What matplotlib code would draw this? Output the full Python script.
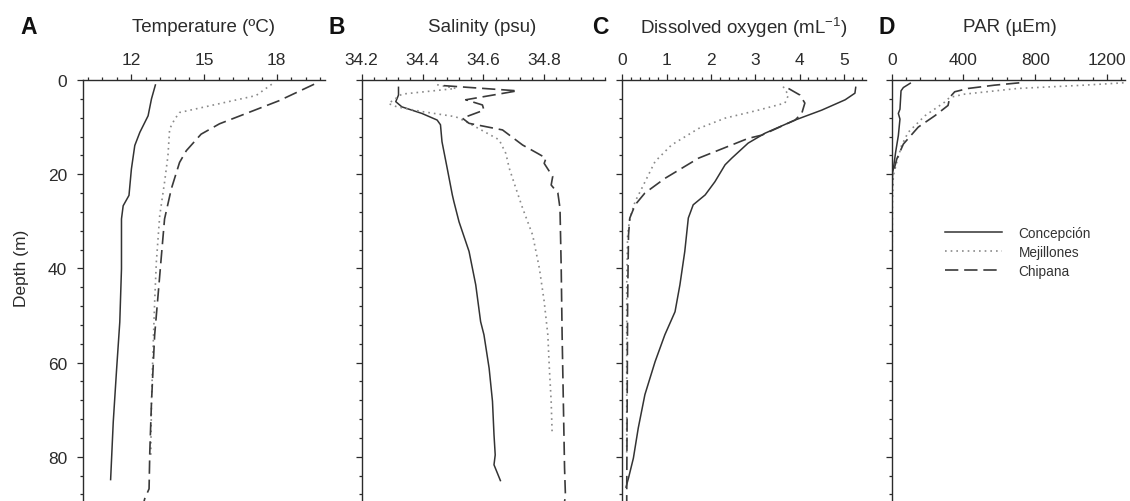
import matplotlib
matplotlib.use("Agg")
import matplotlib.pyplot as plt
from matplotlib.ticker import MultipleLocator, FixedLocator, NullFormatter
from matplotlib.lines import Line2D

plt.rcParams['font.family'] = ['Liberation Sans', 'DejaVu Sans']
plt.rcParams['mathtext.fontset'] = 'custom'
plt.rcParams['mathtext.rm'] = 'Liberation Sans'
plt.rcParams['mathtext.it'] = 'Liberation Sans:italic'

# --- Profiles (depth in m, value) for the three stations ---
# Temperature (ºC)
temp_conc_depth = [0.9, 4.0, 7.6, 11.1, 13.9, 18.9, 24.5, 26.7, 29.5, 40.1, 51.4, 61.3, 72.6, 85.0]
temp_conc = [13.0, 12.83, 12.69, 12.35, 12.14, 12.0, 11.9, 11.66, 11.59, 11.59, 11.52, 11.39, 11.25, 11.14]
temp_mej_depth = [0.9, 3.3, 6.9, 8.3, 10.4, 16.1, 21.7, 28.8, 38.7, 47.2, 57.8, 68.4, 80.0]
temp_mej = [17.8, 17.15, 13.99, 13.79, 13.58, 13.51, 13.37, 13.17, 13.03, 12.96, 12.89, 12.83, 12.8]
temp_chi_depth = [0.9, 4.4, 9.3, 11.5, 15.0, 17.5, 23.1, 29.5, 37.3, 45.8, 54.2, 68.4, 79.0, 86.8, 88.9, 92.0]
temp_chi = [19.55, 18.1, 15.64, 14.88, 14.27, 13.99, 13.65, 13.37, 13.24, 13.1, 12.96, 12.83, 12.76, 12.73, 12.55, 12.4]

# Salinity (psu)
sal_conc_depth = [1.4, 3.2, 4.6, 5.7, 7.1, 8.5, 9.5, 13.1, 18.7, 24.4, 25.8, 30.1, 36.4, 43.5,
                  51.3, 54.1, 61.2, 68.2, 75.3, 79.6, 81.7, 85.2]
sal_conc = [34.321, 34.321, 34.312, 34.332, 34.398, 34.448, 34.459, 34.464, 34.481, 34.498, 34.503,
            34.52, 34.553, 34.575, 34.591, 34.602, 34.619, 34.63, 34.635, 34.639, 34.635, 34.657]
sal_mej_depth = [1.0, 1.8, 3.0, 5.0, 5.7, 6.7, 7.8, 8.8, 12.7, 15.6, 18.7, 23.0, 27.2, 32.9,
                 39.9, 47.0, 54.1, 61.2, 68.2, 74.6]
sal_mej = [34.448, 34.509, 34.332, 34.288, 34.316, 34.398, 34.509, 34.542, 34.652, 34.674, 34.685,
           34.707, 34.729, 34.762, 34.784, 34.8, 34.812, 34.817, 34.823, 34.826]
sal_chi_depth = [1.2, 2.3, 4.2, 5.3, 6.4, 8.1, 9.2, 10.6, 13.8, 15.6, 16.6, 17.7, 20.5, 22.3,
                 24.0, 27.2, 39.9, 54.1, 68.2, 82.4, 88.4, 92.0]
sal_chi = [34.47, 34.712, 34.542, 34.597, 34.602, 34.531, 34.553, 34.663, 34.729, 34.779, 34.806,
           34.8, 34.828, 34.823, 34.845, 34.852, 34.856, 34.859, 34.863, 34.867, 34.87, 34.86]

# Dissolved oxygen (mL-1)
oxy_conc_depth = [1.4, 2.8, 4.2, 6.4, 8.5, 11.3, 13.4, 16.6, 18.0, 21.6, 24.4, 26.5, 29.3, 36.4,
                  43.5, 49.2, 54.1, 59.8, 66.8, 73.9, 80.3, 84.5, 86.6]
oxy_conc = [5.27, 5.25, 5.03, 4.5, 3.9, 3.22, 2.84, 2.47, 2.32, 2.09, 1.87, 1.6, 1.49, 1.41,
            1.3, 1.19, 0.96, 0.74, 0.51, 0.36, 0.25, 0.14, 0.08]
oxy_mej_depth = [1.4, 3.2, 4.9, 6.4, 8.1, 10.3, 13.8, 17.3, 23.0, 25.8, 29.3, 32.9, 43.5, 61.2, 80.0]
oxy_mej = [3.63, 3.75, 3.67, 3.07, 2.32, 1.72, 1.11, 0.74, 0.44, 0.29, 0.17, 0.12, 0.1, 0.1, 0.1]
oxy_chi_depth = [1.8, 3.2, 4.9, 7.1, 8.5, 11.7, 12.4, 16.6, 20.9, 24.0, 26.5, 29.3, 32.9, 47.0, 68.2, 88.0, 92.0]
oxy_chi = [3.75, 4.01, 4.12, 4.05, 3.9, 3.15, 2.84, 1.72, 0.96, 0.51, 0.29, 0.17, 0.14, 0.12, 0.11, 0.1, 0.1]

# PAR (µEm)
par_conc_depth = [0.6, 1.6, 2.3, 6.2, 7.1, 8.3, 11.8, 15.3, 18.9, 20.3, 29.5, 60.0, 92.0]
par_conc = [107, 65, 52, 46, 37, 46, 37, 22, 9, 2, 1, 0, 0]
par_mej_depth = [0.6, 1.1, 1.8, 3.0, 3.7, 4.7, 7.6, 11.1, 13.9, 17.5, 20.3, 26.0, 50.0, 80.0]
par_mej = [1292, 1071, 701, 406, 323, 295, 185, 92, 55, 28, 9, 4, 1, 0]
par_chi_depth = [0.6, 1.1, 1.8, 2.5, 3.7, 5.4, 7.6, 10.0, 13.6, 16.8, 20.3, 30.0, 92.0]
par_chi = [711, 572, 425, 351, 323, 314, 240, 148, 65, 28, 4, 1, 0]

stations = ["Concepción", "Mejillones", "Chipana"]
panel_letters = ["A", "B", "C", "D"]
panel_titles = ["Temperature (ºC)", "Salinity (psu)",
                r"Dissolved oxygen (mL$^{\mathrm{-1}}$)", "PAR (µEm)"]

ink = '#2b2b2b'
styles = [
    dict(color='#333333', lw=1.1, ls='-'),
    dict(color='#8a8a8a', lw=1.2, ls=(0, (1, 2.4))),
    dict(color='#3a3a3a', lw=1.2, ls=(0, (8, 3.5))),
]

W, H = 1130, 502
fig = plt.figure(figsize=(W / 100, H / 100), dpi=100)

# panel extents in pixels (left, right); depth 0 sits at y=81 px, 4.71 px per metre
px_left = [83, 361.7, 622.3, 891.7]
px_right = [325, 605, 866, 1125]
ymax = 89.6
top_px = 81
bot_px = top_px + ymax * 4.71

panels = [
    ((temp_conc_depth, temp_conc), (temp_mej_depth, temp_mej), (temp_chi_depth, temp_chi)),
    ((sal_conc_depth, sal_conc), (sal_mej_depth, sal_mej), (sal_chi_depth, sal_chi)),
    ((oxy_conc_depth, oxy_conc), (oxy_mej_depth, oxy_mej), (oxy_chi_depth, oxy_chi)),
    ((par_conc_depth, par_conc), (par_mej_depth, par_mej), (par_chi_depth, par_chi)),
]
xlims = [(10, 20), (34.2, 35.0), (0, 5.5), (0, 1300)]
xmajors = [[12, 15, 18], [34.2, 34.4, 34.6, 34.8], [0, 1, 2, 3, 4, 5], [0, 400, 800, 1200]]
xminors = [0.6, 0.04, 0.2, 80]
xfmt = ["{:g}", "{:.1f}", "{:g}", "{:g}"]

axes = []
for i in range(4):
    l = px_left[i] / W
    w = (px_right[i] - px_left[i]) / W
    b = 1 - bot_px / H
    h = (bot_px - top_px) / H
    ax = fig.add_axes([l, b, w, h])
    axes.append(ax)

    for (d, v), st in zip(panels[i], styles):
        ax.plot(v, d, solid_capstyle='butt', **st)

    ax.set_xlim(*xlims[i])
    ax.set_ylim(ymax, 0)

    for s in ['right', 'bottom']:
        ax.spines[s].set_visible(False)
    for s in ['left', 'top']:
        ax.spines[s].set_color(ink)
        ax.spines[s].set_linewidth(1.0)

    ax.xaxis.set_ticks_position('top')
    ax.xaxis.set_label_position('top')
    ax.xaxis.set_major_locator(FixedLocator(xmajors[i]))
    ax.xaxis.set_minor_locator(MultipleLocator(xminors[i]))
    ax.set_xticklabels([xfmt[i].format(t) for t in xmajors[i]])

    ax.yaxis.set_major_locator(MultipleLocator(20))
    ax.yaxis.set_minor_locator(MultipleLocator(4))
    if i > 0:
        ax.yaxis.set_major_formatter(NullFormatter())

    ax.tick_params(which='major', direction='out', length=4.5, width=0.9, color=ink,
                   labelsize=12.5, labelcolor=ink)
    ax.tick_params(axis='x', which='major', pad=5)
    ax.tick_params(axis='y', which='major', pad=7)
    ax.tick_params(which='minor', direction='out', length=2.5, width=0.9, color=ink)

# panel letters and titles
letter_x = [29, 336.5, 600, 886.5]
title_x = [204, 482, 744, 1010]
for i in range(4):
    fig.text(letter_x[i] / W, 1 - 27 / H, panel_letters[i], fontsize=16.5,
             fontweight='bold', ha='center', va='center', color='#111111')
    fig.text(title_x[i] / W, 1 - 28 / H, panel_titles[i], fontsize=13.5,
             ha='center', va='center', color=ink)

fig.text(22 / W, 1 - 268 / H, "Depth (m)", rotation=90, fontsize=12.5,
         ha='center', va='center', color=ink)

handles = [Line2D([0], [0], **st) for st in styles]
fig.legend(handles, stations, loc='upper left', bbox_to_anchor=(945 / W, 1 - 227 / H),
           frameon=False, fontsize=9.8, handlelength=4.2, handletextpad=1.2,
           labelspacing=0.35, borderpad=0, borderaxespad=0, labelcolor='#333333')

fig.savefig("out.png", dpi=100)
